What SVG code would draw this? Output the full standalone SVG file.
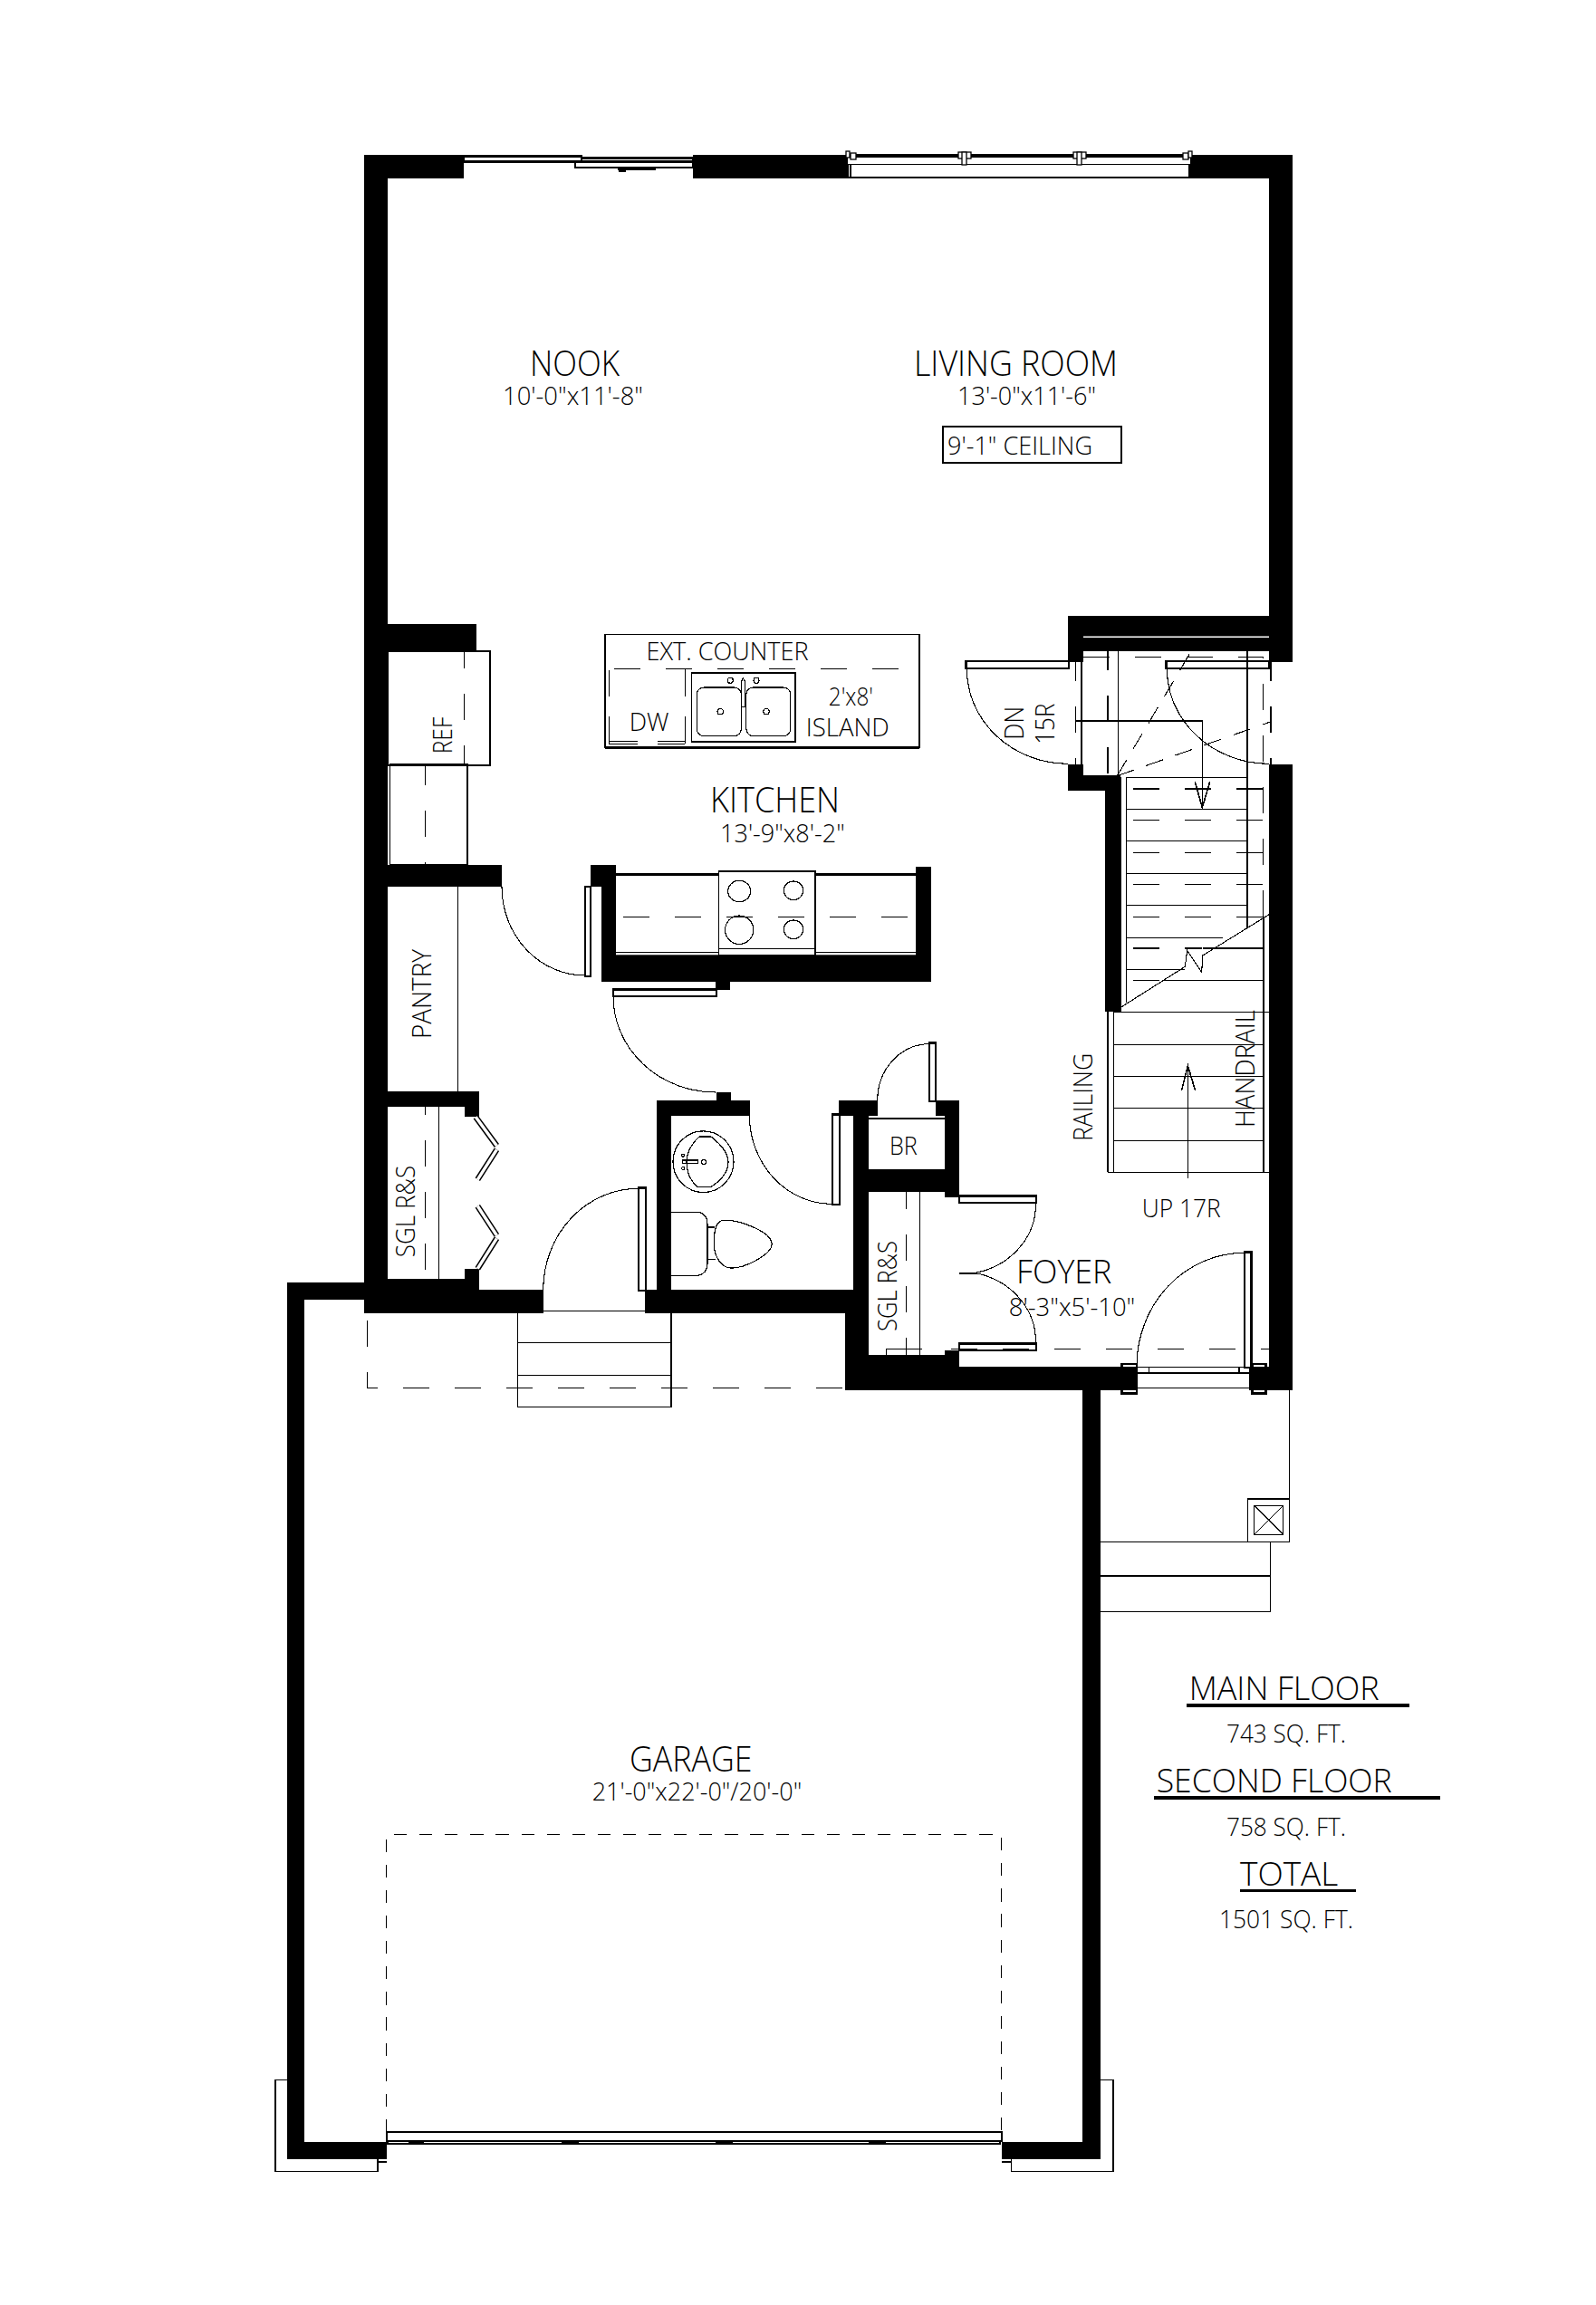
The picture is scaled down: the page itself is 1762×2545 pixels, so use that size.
<svg xmlns="http://www.w3.org/2000/svg" width="1762" height="2545" viewBox="0 0 1762 2545">
<style>
text{font-family:"Open Sans","Noto Sans","Liberation Sans",sans-serif;font-weight:300;fill:#000;stroke:none}
.w{fill:#000;stroke:none;shape-rendering:crispEdges}
.l{fill:none;stroke:#000;stroke-width:1.6;shape-rendering:crispEdges}
.m{fill:none;stroke:#000;stroke-width:3;shape-rendering:crispEdges}
.t{fill:none;stroke:#000;stroke-width:1.1;shape-rendering:crispEdges}
.f{fill:none;stroke:#000;stroke-width:1.2;shape-rendering:crispEdges}
.d{fill:none;stroke:#000;stroke-width:1.6;stroke-dasharray:29 28;shape-rendering:crispEdges}
.g{fill:none;stroke:#000;stroke-width:1.6;stroke-dasharray:14.2 13.9;shape-rendering:crispEdges}
.p{fill:#fff;stroke:#000;stroke-width:2.4;shape-rendering:crispEdges}
.a{fill:none;stroke:#000;stroke-width:6.400}
.b{fill:none;stroke:#fff;stroke-width:3.400}
.xl{font-size:38px}.lg{font-size:36px}.md{font-size:29px}.sm{font-size:27.500px}
</style>

<g id="walls">
<rect class="w" x="402" y="171" width="110" height="26"/>
<rect class="w" x="765" y="171" width="171" height="26"/>
<rect class="w" x="1314" y="171" width="113" height="26"/>
<rect class="w" x="402" y="171" width="26" height="1279"/>
<rect class="w" x="1401" y="171" width="26" height="560"/>
<rect class="w" x="1401" y="844" width="26" height="691"/>
<rect class="w" x="402" y="689" width="124" height="30"/>
<rect class="w" x="402" y="955" width="152" height="24"/>
<rect class="w" x="402" y="1205" width="127" height="17"/>
<rect class="w" x="513" y="1205" width="16" height="28"/>
<rect class="w" x="513" y="1401" width="16" height="23"/>
<rect class="w" x="402" y="1412" width="127" height="12"/>
<rect class="w" x="402" y="1424" width="198" height="26"/>
<rect class="w" x="712" y="1424" width="230" height="26"/>
<rect class="w" x="725" y="1215" width="16" height="209"/>
<rect class="w" x="725" y="1215" width="102.500" height="17"/>
<rect class="w" x="790.500" y="1206" width="16" height="9"/>
<rect class="w" x="926" y="1215" width="43" height="17"/>
<rect class="w" x="942" y="1215" width="17" height="294"/>
<rect class="w" x="933" y="1450" width="26" height="85"/>
<rect class="w" x="1032.500" y="1215" width="26.500" height="17"/>
<rect class="w" x="1043" y="1215" width="16" height="107"/>
<rect class="w" x="942" y="1291" width="117" height="25"/>
<rect class="w" x="933" y="1496" width="126" height="39"/>
<rect class="w" x="1043" y="1491" width="16" height="6"/>
<rect class="w" x="1059" y="1509" width="196" height="26"/>
<rect class="w" x="1179" y="680" width="222" height="39"/>
<rect class="w" x="1179" y="719" width="17" height="12"/>
<rect class="w" x="1179" y="844" width="17" height="29"/>
<rect class="w" x="1179" y="856" width="58" height="17"/>
<rect class="w" x="1220" y="873" width="17" height="244"/>
<rect class="w" x="1379" y="1509" width="48" height="26"/>
<rect class="w" x="652.300" y="955" width="28" height="24"/>
<rect class="w" x="664.400" y="979" width="16" height="105"/>
<rect class="w" x="664.400" y="1053.300" width="364" height="31"/>
<rect class="w" x="1010.800" y="957" width="17.400" height="127"/>
<rect class="w" x="790" y="1084" width="16.300" height="9.300"/>
<rect class="w" x="317" y="1416" width="85" height="19"/>
<rect class="w" x="317" y="1416" width="19" height="968"/>
<rect class="w" x="317" y="2365" width="110" height="19"/>
<rect class="w" x="1195" y="1535" width="20" height="849"/>
<rect class="w" x="1105.600" y="2365" width="109.400" height="19"/>
<line x1="1196" y1="703.300" x2="1401" y2="703.300" stroke="#fff" stroke-width="1.400"/>
</g>

<g id="sliding-door-and-window">
<rect class="p" x="512" y="172.300" width="130" height="6"/>
<rect class="p" x="642" y="174.300" width="123" height="4"/>
<rect class="p" x="635" y="179" width="130" height="6"/>
<path class="l" d="M682 187H724"/>
<rect class="w" x="683" y="185" width="8" height="5"/>
<rect class="w" x="936" y="170" width="378" height="3.500"/>
<path class="l" d="M936 181.500H1314M936 196H1314M936.500 181V196M939 181V196M1313 181V196"/>
<g fill="#fff" stroke="#000" stroke-width="1.300">
<rect x="934" y="167" width="4" height="7"/><rect x="939" y="169" width="6" height="7"/>
<rect x="1058" y="168" width="14" height="7"/><rect x="1062" y="168" width="5" height="14"/>
<rect x="1185" y="168" width="14" height="7"/><rect x="1189" y="168" width="5" height="14"/>
<rect x="1306" y="169" width="6" height="7"/><rect x="1312" y="167" width="4" height="7"/>
</g>
</g>

<g id="kitchen">
<rect class="l" x="428" y="718.700" width="112.700" height="126.300"/>
<path class="d" d="M512.600 719V845" stroke-dashoffset="10"/>
<rect class="l" x="430.400" y="844" width="85.600" height="111"/>
<path class="d" d="M469.300 844V955" stroke-dashoffset="6"/>
<path class="l" d="M505.400 979V1205"/>
<path class="t" d="M668 738V826M1015 738V826"/>
<path class="t" d="M668 700.300H1015V738M668 700.300V738"/>
<path class="m" d="M668 825.500H1015"/>
<path class="d" d="M668 738.300H1015" stroke-dashoffset="-10"/>
<path class="l" d="M672.400 740V769M672.400 790.700V821M756.300 739V769M756.300 790.700V821M672 818.300H703.700M672 821.300H703.700M726 818.300H756M726 821.300H756"/>
<rect class="l" x="763.500" y="743.300" width="114.300" height="75.400"/>
<rect class="f" x="769.300" y="759" width="49.100" height="53.700" rx="8"/>
<rect class="f" x="823.800" y="759" width="49.100" height="53.700" rx="8"/>
<path class="f" d="M818.500 780.700V752L820.400 749L822.300 752V780.700Z"/>
<circle class="f" cx="795.200" cy="785.700" r="3.200"/><circle class="f" cx="846" cy="785.700" r="3.200"/>
<circle class="f" cx="806.300" cy="751.300" r="3"/><circle class="f" cx="835" cy="751.300" r="3"/>
<path class="m" d="M680 965.700H793M899.700 965.700H1011"/>
<path class="l" d="M680 1051.500H793M899.700 1051.500H1011"/>
<rect x="680" y="1052.300" width="331" height="2" fill="#fff"/>
<rect class="l" x="793.400" y="962.300" width="106.300" height="92.700" style="fill:#fff"/>
<path class="l" d="M793.400 1047.300H899.700"/>
<path class="d" d="M680.400 1012.300H1010.800" stroke-dashoffset="-8"/>
<ellipse class="f" cx="816.200" cy="984" rx="12.500" ry="11.700"/>
<ellipse class="f" cx="876" cy="983.300" rx="10.700" ry="10.300"/>
<ellipse class="f" cx="816.200" cy="1026.700" rx="15.600" ry="15.700"/>
<ellipse class="f" cx="876" cy="1026.300" rx="10.700" ry="10.300"/>
</g>

<g id="powder-room">
<ellipse class="f" cx="776.500" cy="1282.700" rx="33.500" ry="33.800"/>
<path class="f" d="M772 1255H785Q804 1270 804 1283Q804 1298 785 1310.500H770Q758 1300 758 1283Q758 1268 772 1255Z"/>
<rect class="f" x="753.300" y="1281" width="16.900" height="3.300"/>
<circle class="f" cx="776.900" cy="1283" r="2.500"/>
<circle class="f" cx="754.200" cy="1275.700" r="1.500"/><circle class="f" cx="754.200" cy="1290" r="1.500"/>
<path class="f" d="M741 1338.300H771Q781 1340 781 1352V1395Q781 1406 771 1408.300H741"/>
<path class="f" d="M781 1355H788.500M781 1390.700H790"/>
<path class="f" d="M798 1347.300C815 1346 852 1360 852.200 1373.500C852 1385 822 1401 806 1400C795 1399 788 1385 788.300 1373.500C788 1360 790 1349 798 1347.300Z"/>
</g>

<g id="closets">
<path class="d" d="M469.600 1222V1412" stroke-dashoffset="20"/>
<path class="l" d="M484.400 1222V1412"/>
<path class="a" d="M525.200 1233.300L548.400 1265M548.400 1269.300L527.300 1302.300M527.300 1331.700L548.400 1364M548.400 1367.300L527.300 1400.700"/>
<path class="b" d="M525.200 1233.300L548.400 1265M548.400 1269.300L527.300 1302.300M527.300 1331.700L548.400 1364M548.400 1367.300L527.300 1400.700"/>
<path class="d" d="M1000.300 1316V1496" stroke-dashoffset="10"/>
<path class="l" d="M1015.400 1316V1496"/>
<path class="l" d="M978.400 1496V1489.300H1018.400"/>
<path class="l" d="M959 1235H1043"/>
</g>

<g id="doors">
<rect class="p" x="646" y="979" width="6.300" height="99"/>
<path class="t" d="M554 979A92 98 0 0 0 646 1077"/>
<rect class="p" x="677" y="1092.700" width="113.700" height="7.300"/>
<path class="t" d="M677 1100A113 106 0 0 0 790.400 1206"/>
<rect class="p" x="705" y="1311.700" width="8.300" height="113.300"/>
<path class="t" d="M599.700 1424A105 112 0 0 1 705 1312.300"/>
<rect class="p" x="918.700" y="1230.700" width="8.300" height="99.300"/>
<path class="t" d="M827.400 1231.700A91 98 0 0 0 918.700 1329.300"/>
<rect class="p" x="1025.800" y="1151.700" width="7.400" height="64.300"/>
<path class="t" d="M968.800 1215A57 62 0 0 1 1025.800 1152.700"/>
<rect class="p" x="1059" y="1320.700" width="85" height="7.600"/>
<rect class="p" x="1059" y="1483.300" width="85" height="7.700"/>
<path class="t" d="M1143.400 1328A85 77 0 0 1 1079 1405L1059 1406L1079 1406A85 77 0 0 1 1143.400 1483.300"/>
<rect class="p" x="1374" y="1382.700" width="7.300" height="127.300"/>
<path class="t" d="M1255 1508A119 125 0 0 1 1374 1383.300"/>
<rect class="p" x="1066.700" y="729.700" width="113.300" height="8.600"/>
<path class="t" d="M1067.300 738.300A112 105 0 0 0 1179 843.300"/>
<rect class="p" x="1287.700" y="729.700" width="113.600" height="8.600"/>
<path class="t" d="M1288.300 738.300A113 105 0 0 0 1401.300 843.300"/>
<rect class="p" x="1238.400" y="1506" width="16.500" height="32.300"/>
<rect class="p" x="1382.300" y="1506" width="15.300" height="32.300"/>
<rect class="w" x="1238.400" y="1509" width="18" height="26"/>
<rect class="w" x="1379" y="1509" width="22" height="26"/>
<path class="l" d="M1256 1509.500H1379M1256 1516H1379M1256 1532.300H1379M1268.500 1509.500V1516M1368 1509.500V1516"/>
</g>

<g id="stairs">
<path class="d" d="M1187.300 731V844" stroke-dashoffset="8"/>
<path class="l" d="M1193.700 731V844"/>
<path class="d" d="M1222.700 719V856" stroke-dashoffset="8"/>
<path class="l" d="M1234.300 719V856"/>
<path class="d" d="M1196 725.300H1394.300V1012"/>
<path class="l" d="M1376.700 719V1025"/>
<path class="d" d="M1402.700 731V844" stroke-dashoffset="8" style="stroke:#000"/>
<path class="l" d="M1187.300 796H1327.300V891.700M1319.300 863.300L1327.300 891.700L1335.700 863.300"/>
<path class="t" d="M1233.300 856.700L1315 719.300M1233.300 856.700L1403.300 796.700" stroke-dasharray="20 14"/>
<path class="l" d="M1243.300 858.300H1376.700M1243.300 893.300H1376.700M1243.300 928.300H1376.700M1243.300 964.300H1376.700M1243.300 999.300H1376.700M1243.300 1035.300H1350M1243.300 1070.300H1308M1243.300 858.300V1106.700M1237 858V1117"/>
<path class="d" d="M1237 870.700H1401M1237 905.300H1401M1237 941.300H1401M1237 976.300H1401M1237 1012.300H1401M1237 1046.700H1327M1237 1082.300H1283" stroke-dashoffset="-14"/>
<path class="l" d="M1327.700 1046.700H1394.300M1283.300 1082.300H1394.300M1229.300 1117.300H1401M1229.300 1153.300H1395M1229.300 1188.300H1395M1229.300 1223.300H1395M1229.300 1259.300H1395M1222.600 1294.300H1401M1222.700 1117.300V1294.300M1229.300 1117.300V1294.300M1395 1012V1294.300"/>
<path class="t" d="M1236.700 1112.700L1308.300 1067.300L1310.700 1049.300L1326.700 1073.300L1327.700 1055L1402.300 1009"/>
<path class="l" d="M1311.400 1176.700V1300.700M1304.400 1204.300L1311.400 1176.700L1319.600 1204.300"/>
<path class="d" d="M1046 1489.300H1401" stroke-dashoffset="-4"/>
</g>

<g id="rear-steps">
<path class="l" d="M600 1447.300H712M571.500 1450V1553.300H740.700V1450M571.500 1482.300H740.700M571.500 1518.300H740.700"/>
<path class="d" d="M405.300 1450V1532.300H933" stroke-dashoffset="-8"/>
</g>

<g id="front-steps">
<path class="l" d="M1423.600 1535V1702.300H1215M1377.300 1702.300V1655H1423.600M1402.600 1702.300V1779.300H1215M1215 1740H1402.600"/>
<rect class="l" x="1384.600" y="1662.300" width="32.100" height="32"/>
<path class="t" d="M1384.600 1662.300L1416.700 1694.300M1416.700 1662.300L1384.600 1694.300"/>
</g>

<g id="garage">
<path class="g" d="M426.500 2354V2025.300H1105.600V2354"/>
<path class="l" d="M317 2296.300H303.800V2397.300H416.900V2384M416.900 2386.700H426.900M1215 2296.300H1228.800V2397.300H1116.300V2384M1105.600 2386.700H1116.300"/>
<rect class="l" x="426.900" y="2354.300" width="678.700" height="9.700" style="stroke-width:2"/>
<rect class="l" x="428" y="2364" width="675.800" height="3"/>
<rect class="w" x="450.600" y="2364" width="17.400" height="3"/>
<rect class="w" x="620" y="2364" width="18.800" height="3"/>
<rect class="w" x="790" y="2364" width="18.800" height="3"/>
<rect class="w" x="958.800" y="2364" width="18.700" height="3"/>
</g>

<g id="ceiling-note"><rect class="l" x="1041" y="471" width="197" height="40"/></g>

<g id="legend-underlines">
<rect class="w" x="1310" y="1881" width="246" height="3.700"/>
<rect class="w" x="1274" y="1983.300" width="316" height="3.400"/>
<rect class="w" x="1369" y="2086" width="127.700" height="3.300"/>
</g>

<g id="labels">
<text class="xl" x="585" y="415" textLength="99" lengthAdjust="spacingAndGlyphs">NOOK</text>
<text class="sm" x="555" y="446.700" textLength="155" lengthAdjust="spacingAndGlyphs">10'-0"x11'-8"</text>
<text class="xl" x="1009" y="415" textLength="225" lengthAdjust="spacingAndGlyphs">LIVING ROOM</text>
<text class="sm" x="1057" y="447" textLength="153" lengthAdjust="spacingAndGlyphs">13'-0"x11'-6"</text>
<text class="sm" x="1046" y="501.700" textLength="160" lengthAdjust="spacingAndGlyphs">9'-1" CEILING</text>
<text class="sm" x="713.500" y="729.300" textLength="179" lengthAdjust="spacingAndGlyphs">EXT. COUNTER</text>
<text class="sm" x="694.700" y="806.700" textLength="43.800" lengthAdjust="spacingAndGlyphs">DW</text>
<text class="sm" x="914.800" y="779.300" textLength="49.200" lengthAdjust="spacingAndGlyphs">2'x8'</text>
<text class="sm" x="889.800" y="813.300" textLength="92" lengthAdjust="spacingAndGlyphs">ISLAND</text>
<text class="xl" x="784" y="897.300" textLength="143" lengthAdjust="spacingAndGlyphs">KITCHEN</text>
<text class="sm" x="795" y="930" textLength="137.700" lengthAdjust="spacingAndGlyphs">13'-9"x8'-2"</text>
<text class="sm" x="982" y="1275" textLength="30.800" lengthAdjust="spacingAndGlyphs">BR</text>
<text class="lg" x="1122" y="1416.700" textLength="105.400" lengthAdjust="spacingAndGlyphs">FOYER</text>
<text class="sm" x="1113.800" y="1453.300" textLength="139.500" lengthAdjust="spacingAndGlyphs">8'-3"x5'-10"</text>
<text class="sm" x="1260.700" y="1344" textLength="87" lengthAdjust="spacingAndGlyphs">UP 17R</text>
<text class="xl" x="695" y="1955.700" textLength="135.500" lengthAdjust="spacingAndGlyphs">GARAGE</text>
<text class="sm" x="653.700" y="1988.300" textLength="231.500" lengthAdjust="spacingAndGlyphs">21'-0"x22'-0"/20'-0"</text>
<g>
<text class="md" x="476" y="1147" textLength="99" lengthAdjust="spacingAndGlyphs" transform="rotate(-90 476 1147)">PANTRY</text>
<text class="md" x="499" y="832.300" textLength="40.600" lengthAdjust="spacingAndGlyphs" transform="rotate(-90 499 832.300)">REF</text>
<text class="md" x="458.300" y="1388.300" textLength="101.600" lengthAdjust="spacingAndGlyphs" transform="rotate(-90 458.300 1388.300)">SGL R&amp;S</text>
<text class="md" x="990" y="1470" textLength="100" lengthAdjust="spacingAndGlyphs" transform="rotate(-90 990 1470)">SGL R&amp;S</text>
<text class="md" x="1206" y="1260" textLength="97.300" lengthAdjust="spacingAndGlyphs" transform="rotate(-90 1206 1260)">RAILING</text>
<text class="md" x="1385.400" y="1245" textLength="130" lengthAdjust="spacingAndGlyphs" transform="rotate(-90 1385.400 1245)">HANDRAIL</text>
<text class="md" x="1130" y="816.700" textLength="36.700" lengthAdjust="spacingAndGlyphs" transform="rotate(-90 1130 816.700)">DN</text>
<text class="md" x="1164" y="821.700" textLength="45" lengthAdjust="spacingAndGlyphs" transform="rotate(-90 1164 821.700)">15R</text>
</g>
<text class="lg" x="1312.700" y="1877.300" textLength="210" lengthAdjust="spacingAndGlyphs">MAIN FLOOR</text>
<text class="sm" x="1354" y="1924" textLength="132" lengthAdjust="spacingAndGlyphs">743 SQ. FT.</text>
<text class="lg" x="1276.700" y="1979.300" textLength="260" lengthAdjust="spacingAndGlyphs">SECOND FLOOR</text>
<text class="sm" x="1354" y="2026.700" textLength="132" lengthAdjust="spacingAndGlyphs">758 SQ. FT.</text>
<text class="lg" x="1369" y="2081.700" textLength="108.300" lengthAdjust="spacingAndGlyphs">TOTAL</text>
<text class="sm" x="1346" y="2129.300" textLength="148" lengthAdjust="spacingAndGlyphs">1501 SQ. FT.</text>
</g>
</svg>
